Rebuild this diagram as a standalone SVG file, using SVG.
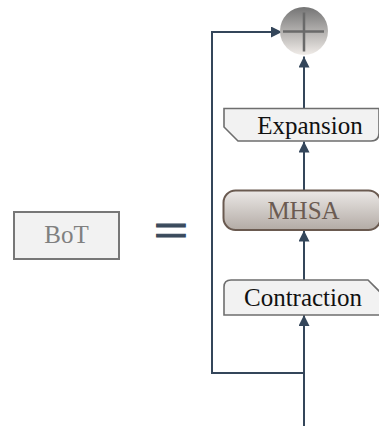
<svg xmlns="http://www.w3.org/2000/svg" width="379" height="427" viewBox="0 0 379 427">
  <defs>
    <linearGradient id="gCircle" x1="0" y1="0" x2="0" y2="1">
      <stop offset="0" stop-color="#747474"/>
      <stop offset="1" stop-color="#f0ece8"/>
    </linearGradient>
    <linearGradient id="gMhsa" x1="0" y1="0" x2="0" y2="1">
      <stop offset="0" stop-color="#ebe8e6"/>
      <stop offset="1" stop-color="#b3aba5"/>
    </linearGradient>
    <marker id="arrow" viewBox="0 0 12 12" refX="12" refY="6" markerWidth="11" markerHeight="11" markerUnits="userSpaceOnUse" orient="auto">
      <path d="M0,0 L12,6 L0,12 Z" fill="#34465a"/>
    </marker>
    <style>
      .edge { fill: none; stroke: #34465a; stroke-width: 2; }
      .box { fill: #f2f2f2; stroke: #6e6e6e; stroke-width: 1.6; }
      .lbl { font-family: "Liberation Serif", "Times New Roman", serif; font-size: 25px; text-anchor: middle; fill: #111111; }
    </style>
  </defs>

  <g id="connectors">
    <path class="edge" d="M304,426 V315" marker-end="url(#arrow)"/>
    <path class="edge" d="M304,280 V230.5" marker-end="url(#arrow)"/>
    <path class="edge" d="M304,190 V141.5" marker-end="url(#arrow)"/>
    <path class="edge" d="M304,108 V56.5" marker-end="url(#arrow)"/>
    <path class="edge" d="M304,373 H212 V32 H282" marker-end="url(#arrow)"/>
  </g>

  <g id="bot">
    <rect x="14" y="212" width="105" height="47" fill="#f2f2f2" stroke="#777777" stroke-width="2"/>
    <text class="lbl" x="66.5" y="243" style="fill:#808080">BoT</text>
  </g>

  <g id="equals">
    <text transform="translate(171,244) scale(1,0.685)" x="0" y="0" font-family="Liberation Sans, Arial, sans-serif" font-size="58" text-anchor="middle" fill="#3a4a5c" stroke="#3a4a5c" stroke-width="1.6">=</text>
  </g>

  <g id="add">
    <circle cx="304" cy="31" r="24" fill="url(#gCircle)"/>
    <path d="M283,31.5 H324 M304,12.5 V51.5" stroke="#6a6a6a" stroke-width="2.5" fill="none"/>
  </g>

  <g id="expansion">
    <path class="box" d="M224,108.5 H379 V133 Q379,141 371,141 H238 L224,127 Z"/>
    <text class="lbl" x="310" y="134">Expansion</text>
  </g>

  <g id="mhsa">
    <rect x="223.5" y="190.5" width="157" height="39.5" rx="12" fill="url(#gMhsa)" stroke="#6a5a50" stroke-width="2"/>
    <text class="lbl" x="303.5" y="218.5" style="fill:#6b5b52">MHSA</text>
  </g>

  <g id="contraction">
    <path class="box" d="M224,315 V287 Q224,280 231,280 H368 L382,294 V315 Z"/>
    <text class="lbl" x="303" y="306">Contraction</text>
  </g>
</svg>
